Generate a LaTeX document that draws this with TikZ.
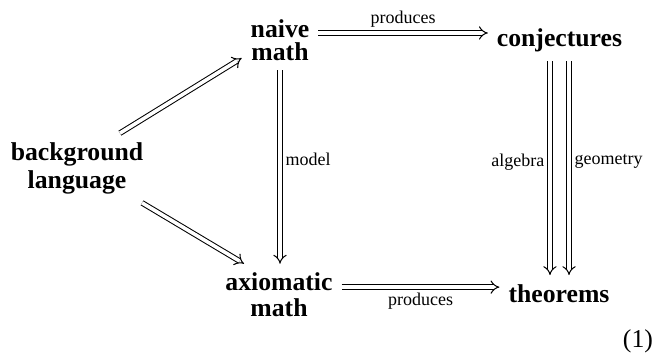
\documentclass[tikz,border=0pt]{standalone}
\usepackage{fontspec}
\setmainfont{Liberation Serif}
\usetikzlibrary{arrows.meta}

\begin{document}
\begin{tikzpicture}[x=0.389pt,y=-0.389pt,
    obj/.style={font=\fontsize{10}{12}\selectfont\bfseries,align=center},
    imp/.style={double,double distance=1.4pt,line width=0.4pt,-{Implies}},
    lab/.style={font=\fontsize{7}{8.4}\selectfont,inner sep=2pt}]
    \useasboundingbox (0,0) rectangle (667,353);
    \node[obj] (naive) at (280,40.3) {naive\\[-2.8pt]math};
    \node[obj,anchor=base] (conj) at (559.5,46.7) {conjectures};
    \node[obj] (bg) at (77,168) {background\\[-1.1pt]language};
    \node[obj] (axm) at (279,294.8) {axiomatic\\[-1.9pt]math};
    \node[obj,anchor=base] (thm) at (559,302) {theorems};
    \node[anchor=base east,font=\fontsize{10}{12}\selectfont] (eqn) at (662,347) {(1)};
    \draw[imp] ([yshift=2.85pt]naive.east) coordinate (p1) -- (conj.west |- p1)
        node[lab,midway,above] {produces};
    \draw[imp] ([yshift=3pt]axm.east) coordinate (p2) -- (thm.west |- p2)
        node[lab,midway,below] {produces};
    \draw[imp] ([xshift=16.7pt]bg.north) -- ([yshift=-6.9pt]naive.west);
    \draw[imp] ([xshift=25.3pt]bg.south) -- ([xshift=-13.6pt]axm.north);
    \draw[imp] (naive.south) -- (naive.south |- axm.north)
        node[lab,right,pos=0.46] {model};
    \draw[imp] ([xshift=-3.7pt]conj.south) coordinate (p3) -- (p3 |- thm.north)
        node[lab,left,pos=0.47] {algebra};
    \draw[imp] ([xshift=3.7pt]conj.south) coordinate (p4) -- (p4 |- thm.north)
        node[lab,right,pos=0.47] {geometry};
\end{tikzpicture}
\end{document}
